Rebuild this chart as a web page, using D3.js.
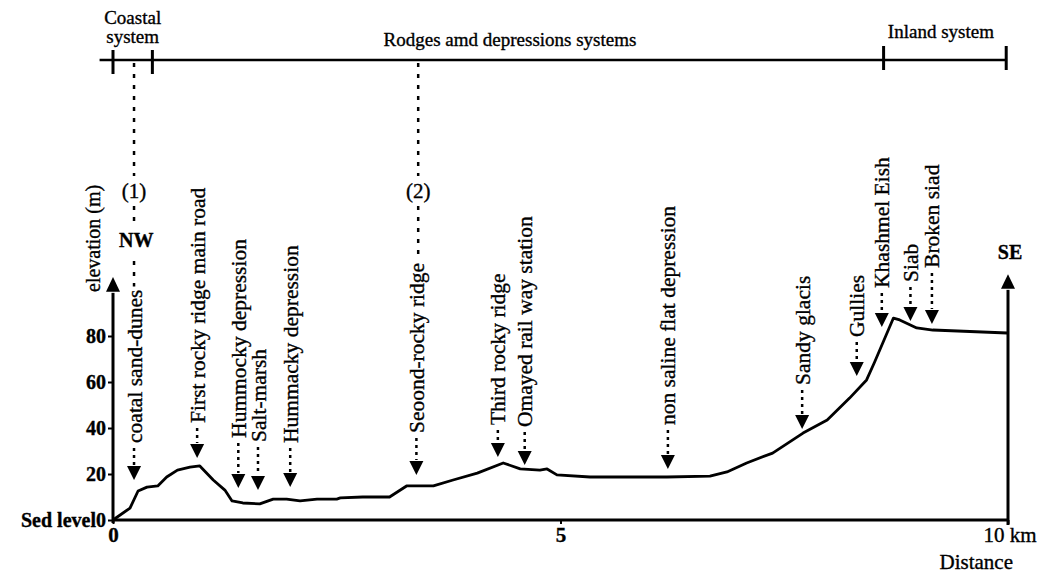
<!DOCTYPE html>
<html><head><meta charset="utf-8">
<script src="https://cdn.jsdelivr.net/npm/d3@7"></script>
<style>
html,body{margin:0;padding:0;background:#fff;}
svg{display:block;}
text{font-family:"Liberation Serif","Times New Roman",serif;fill:#000;stroke:#000;stroke-width:0.35px;}
</style></head><body>
<svg id="chart" width="1043" height="573"></svg>
<script>
// ---------- DATA ----------
const profileKm = [0.00,0.19,0.28,0.38,0.50,0.60,0.72,0.86,0.97,1.12,1.25,1.33,1.45,1.64,1.79,1.94,2.09,2.28,2.50,2.54,2.79,3.09,3.28,3.58,3.80,4.07,4.36,4.55,4.77,4.85,4.96,5.33,5.70,6.19,6.67,6.86,7.08,7.37,7.71,7.98,8.23,8.42,8.51,8.72,8.79,8.98,9.16,9.99];
const profileM  = [0.0,5.2,12.6,14.3,14.8,18.7,21.7,23.0,23.5,17.4,13.0,8.3,7.4,7.0,9.1,9.1,8.3,9.1,9.1,9.6,10.0,10.0,14.8,14.8,17.4,20.4,24.8,22.2,21.7,22.2,19.6,18.7,18.7,18.7,19.1,20.9,24.8,29.1,37.8,43.5,53.0,60.9,68.7,87.8,87.0,83.5,82.6,81.3];

const annLabels = ["coatal sand-dunes","First rocky ridge main road","Hummocky depression","Salt-marsh","Hummacky depression","Seoond-rocky ridge","Third rocky ridge","Omayed rail way station","non saline flat depression","Sandy glacis","Gullies","Khashmel Eish","Siab","Broken siad"];
const annKm    = [0.235,0.94,1.40,1.62,1.98,3.39,4.30,4.60,6.20,7.70,8.31,8.59,8.91,9.15];
const annTipM  = [17.4,27.0,13.9,13.0,14.3,19.6,27.4,23.9,22.2,39.6,62.6,83.9,86.5,85.2];
const annTextM = [33.5,42.2,35.7,33.9,33.5,37.8,41.3,40.4,41.3,58.7,79.6,100.9,103.5,109.6];

const systemNames = [["Coastal","system"],["Rodges amd depressions systems"],["Inland system"]];
const systemBreaksKm = [0, 0.44, 8.61, 9.98];

const sectionLabels = ["(1)","(2)"];
const sectionKm = [0.235, 3.41];

const yTickValues = [0,20,40,60,80];
const yTickLabels = ["Sed level0","20","40","60","80"];
const xTickValues = [0,5,10];
const xTickLabels = ["0","5","10 km"];

// ---------- LAYOUT ----------
const svg = d3.select("#chart");
const x = d3.scaleLinear().domain([0,10]).range([113,1008]);
const y = d3.scaleLinear().domain([0,80]).range([520,336]);
const FONT = '"Liberation Serif","Times New Roman",serif';
const headerY = 60;

// header line
svg.append("line").attr("x1", x(-0.15)).attr("x2", x(systemBreaksKm[3]))
  .attr("y1", headerY).attr("y2", headerY).attr("stroke","#000").attr("stroke-width",2.6);
svg.selectAll(".htick").data(systemBreaksKm).enter().append("line")
  .attr("x1", d=>x(d)).attr("x2", d=>x(d))
  .attr("y1", (d,i)=> i<2 ? 50 : 46).attr("y2", (d,i)=> i<2 ? 74 : 70)
  .attr("stroke","#000").attr("stroke-width",3);
const headerBaselines = [[24,43],[46],[38]];
systemNames.forEach((lines,i)=>{
  const cx = (x(systemBreaksKm[i]) + x(systemBreaksKm[i+1]))/2 + (i===1?-8:(i===2?-4:0));
  lines.forEach((ln,j)=>{
    svg.append("text").attr("x",cx).attr("y",headerBaselines[i][j])
      .attr("text-anchor","middle").style("font-size","19px").text(ln);
  });
});

// ---------- AXES ----------
const xAxis = d3.axisBottom(x).tickValues(xTickValues).tickSize(4).tickPadding(3)
  .tickFormat((d,i)=>xTickLabels[i]);
const gx = svg.append("g").attr("transform",`translate(0,${y(0)})`).call(xAxis);
gx.select(".domain").remove();
gx.selectAll(".tick line").attr("stroke","#000").attr("stroke-width",2);
gx.selectAll(".tick text").style("font-family",FONT).style("font-size","21px").attr("fill","#000")
  .style("font-weight",(d,i)=> i<2 ? "bold":"normal");
gx.selectAll(".tick text").filter((d,i)=>i===2).attr("text-anchor","start").attr("x",-25);
svg.append("line").attr("x1",x(0)).attr("x2",x(10)).attr("y1",y(0)).attr("y2",y(0))
  .attr("stroke","#000").attr("stroke-width",2.8);

const yAxis = d3.axisLeft(y).tickValues(yTickValues).tickSize(5).tickPadding(2)
  .tickFormat((d,i)=>yTickLabels[i]);
const gy = svg.append("g").attr("transform",`translate(${x(0)},0)`).call(yAxis);
gy.select(".domain").remove();
gy.selectAll(".tick line").attr("stroke","#000").attr("stroke-width",2);
gy.selectAll(".tick text").style("font-family",FONT).style("font-size","20px")
  .style("font-weight","bold").attr("fill","#000");

function vArrowAxis(px, yBottom, yBase, yTip){
  svg.append("line").attr("x1",px).attr("x2",px).attr("y1",yBottom).attr("y2",yBase+1)
    .attr("stroke","#000").attr("stroke-width",3);
  svg.append("path").attr("d",`M${px-7},${yBase} L${px+7},${yBase} L${px},${yTip} Z`).attr("fill","#000");
}
vArrowAxis(x(0), y(0)+3, y(99.2), y(105.7));
vArrowAxis(x(10), y(0)+5, y(100.5), y(106.9));

svg.append("text").attr("transform",`translate(100,292) rotate(-90)`)
  .style("font-size","20px").text("elevation (m)");
svg.append("text").attr("x",1013).attr("y",569).attr("text-anchor","end")
  .style("font-size","21px").text("Distance");
svg.append("text").attr("x",x(10)+2).attr("y",259).attr("text-anchor","middle")
  .style("font-size","20px").style("font-weight","bold").text("SE");

// ---------- PROFILE ----------
const line = d3.line().x((d,i)=>x(profileKm[i])).y((d,i)=>y(profileM[i]));
svg.append("path").datum(profileKm).attr("d",line)
  .attr("fill","none").attr("stroke","#000").attr("stroke-width",2.8)
  .attr("stroke-linejoin","round");

// ---------- ANNOTATIONS ----------
const labelTops = [];
annLabels.forEach((lab,i)=>{
  const px = x(annKm[i]);
  const tip = y(annTipM[i]);
  const tb = y(annTextM[i]);
  const triTop = tip - 14;
  svg.append("path").attr("d",`M${px-7},${triTop} L${px+7},${triTop} L${px},${tip} Z`).attr("fill","#000");
  if (triTop - 2 > tb + 5) {
    svg.append("line").attr("x1",px).attr("x2",px).attr("y1",tb+5).attr("y2",triTop-1)
      .attr("stroke","#000").attr("stroke-width",2.5).attr("stroke-dasharray","3,4");
  }
  const t = svg.append("text").attr("transform",`translate(${px},${tb}) rotate(-90)`)
    .attr("dy","0.35em").style("font-size","21.5px").text(lab);
  labelTops.push(tb - t.node().getComputedTextLength());
});

// section leaders (1), (2)
const leaderEnds = [labelTops[0], labelTops[5]];
sectionLabels.forEach((lab,i)=>{
  const px = x(sectionKm[i]);
  svg.append("line").attr("x1",px).attr("x2",px).attr("y1",headerY+3).attr("y2",leaderEnds[i]-3)
    .attr("stroke","#000").attr("stroke-width",2.5).attr("stroke-dasharray","4,7");
});
function knockText(tx, ty, str, size, weight){
  const t = svg.append("text").attr("x",tx).attr("y",ty).attr("text-anchor","middle")
    .style("font-size",size).style("font-weight",weight).text(str);
  const b = t.node().getBBox();
  svg.insert("rect", () => t.node()).attr("x",b.x-2).attr("y",b.y-3).attr("width",b.width+4)
    .attr("height",b.height+6).attr("fill","#fff");
}
knockText(x(sectionKm[0]), 198, sectionLabels[0], "21px", "normal");
knockText(x(sectionKm[1]), 198, sectionLabels[1], "21px", "normal");
knockText(x(0.26), 247, "NW", "20px", "bold");
</script>
</body></html>
